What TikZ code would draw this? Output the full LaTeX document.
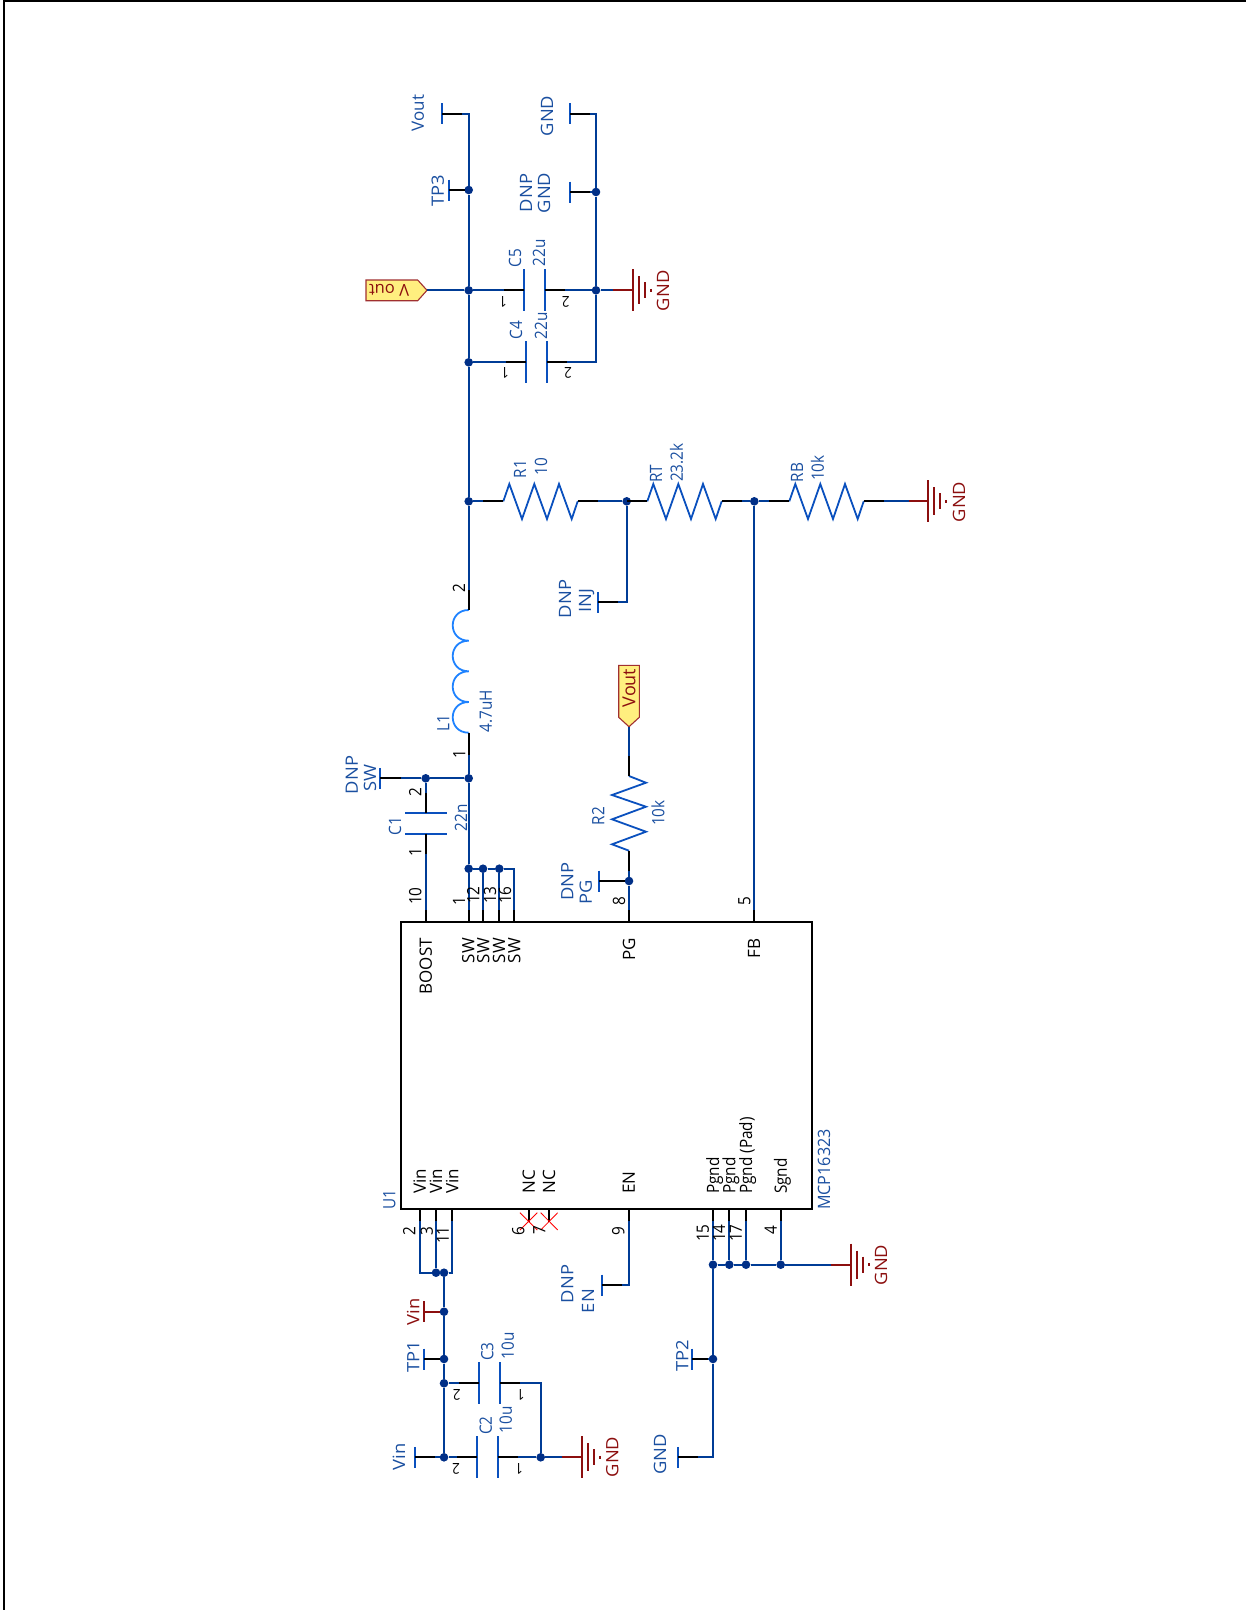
\documentclass[tikz,border=0pt]{standalone}
\usepackage{fontspec}
\setmainfont{Open Sans}
\newfontfamily\narrowf[FakeStretch=0.9]{Open Sans}
\newfontfamily\mediumf[FakeStretch=0.95]{Open Sans}
\newfontfamily\widef[FakeStretch=1.08]{Open Sans}
\definecolor{wireblue}{HTML}{003C96}
\definecolor{compblue}{HTML}{0A50BE}
\definecolor{textblue}{HTML}{1A4FA0}
\definecolor{dotblue}{HTML}{002F87}
\definecolor{darkred}{HTML}{8C0F0F}
\definecolor{indblue}{HTML}{1E82FF}
\definecolor{flagfill}{HTML}{FFEF7F}
\definecolor{flagline}{HTML}{A03030}
\newcommand{\tbarsym}[4][compblue]{\coordinate (#2) at (#3,#4);\draw[comp,draw=#1] (#3,#4-10.5) -- (#3,#4+10.5);}
\newcommand{\gndsym}[3]{\coordinate (#1) at (#2,#3);
 \draw[gndbar] (#2,#3-21) -- (#2,#3+21);
 \draw[gndbar] (#2+6,#3-14) -- (#2+6,#3+14);
 \draw[gndbar] (#2+12,#3-8) -- (#2+12,#3+8);
 \draw[gndbar] (#2+18,#3-1.5) -- (#2+18,#3+1.5);}
\newcommand{\resist}[3]{\coordinate (#1a) at (#2,#3);\coordinate (#1b) at (#2+74.4,#3);
 \draw[comp,line join=miter] (#1a) -- ++(6,-17.3) -- ++(12.7,35) -- ++(12.3,-35) -- ++(12.7,35) -- ++(12,-35) -- ++(12.7,35) -- (#1b);}
\newcommand{\capH}[5]{% name, x1, x2, y, half
 \coordinate (#1a) at (#2,#4);\coordinate (#1b) at (#3,#4);
 \draw[comp] (#2,#4-#5) -- (#2,#4+#5);\draw[comp] (#3,#4-#5) -- (#3,#4+#5);}
\tikzset{
 x=1pt,y=-1pt,
 wire/.style={draw=wireblue,line width=2pt},
 pinw/.style={draw=black,line width=2pt},
 redw/.style={draw=darkred,line width=2pt},
 comp/.style={draw=compblue,line width=1.8pt},
 gndbar/.style={draw=darkred,line width=2pt},
 dot/.style={circle,fill=dotblue,minimum size=8.6pt,inner sep=0pt,draw=none},
 txb/.style={inner sep=0pt,text depth=0pt},
 big/.style={txb,text height=12.1pt,font=\widef\fontsize{17}{17}\selectfont},
 mid/.style={txb,text height=12.1pt,font=\narrowf\fontsize{17}{17}\selectfont},
 lbl/.style={big,rotate=90,text=textblue},
 rlbl/.style={big,rotate=90,text=darkred},
 small/.style={mid,rotate=90,text=textblue},
 pinl/.style={mid,rotate=90,text=black},
 pinf/.style={txb,text height=10.7pt,rotate=180,text=black,font=\narrowf\fontsize{15}{15}\selectfont},
 icbase/.style={txb,text height=12.1pt,rotate=90,text=black,font=\fontsize{17}{17}\selectfont},
 icl/.style={icbase,anchor=west},
 ict/.style={icbase,anchor=east},
 flag/.style={draw=flagline,fill=flagfill,line width=1.1pt,line join=miter},
}
\begin{document}
\begin{tikzpicture}
\useasboundingbox (0,0) rectangle (1246,1610);
% sheet edge
\coordinate (sheetTL) at (4,1);
\coordinate (sheetTR) at (1246,1);
\coordinate (sheetBL) at (4,1610);
\draw[draw=black,line width=2pt] (sheetBL) -- (sheetTL) -- (sheetTR);

% IC
\node[draw=black,line width=2pt,minimum width=411pt,minimum height=287.3pt,inner sep=0pt] (U1) at (606.5,1065.35) {};

% junction dots
\node[dot] (jTP3) at (468.7,190) {};
\node[dot] (jVout) at (468.7,290.3) {};
\node[dot] (jC4) at (468.7,362.3) {};
\node[dot] (jR1) at (468.7,501.3) {};
\node[dot] (jSW) at (468.7,778.3) {};
\node[dot] (jC1) at (425.7,778.3) {};
\node[dot] (jS1) at (468.7,868.7) {};
\node[dot] (jS2) at (483,868.7) {};
\node[dot] (jS3) at (499.3,868.7) {};
\node[dot] (jGnd2) at (596,192) {};
\node[dot] (jC5r) at (596,290.3) {};
\node[dot] (jRT) at (626.7,501.3) {};
\node[dot] (jFB) at (754.3,501.3) {};
\node[dot] (jPG) at (629,881) {};
\node[dot] (jV1) at (436,1272.7) {};
\node[dot] (jV2) at (444,1272.7) {};
\node[dot] (jVin) at (444,1311.7) {};
\node[dot] (jTP1) at (444,1359) {};
\node[dot] (jC3) at (444,1383.3) {};
\node[dot] (jC2) at (444,1457.3) {};
\node[dot] (jC2r) at (540.7,1457.3) {};
\node[dot] (jP1) at (713,1264.7) {};
\node[dot] (jP2) at (729.3,1264.7) {};
\node[dot] (jP3) at (746,1264.7) {};
\node[dot] (jP4) at (780.7,1264.7) {};
\node[dot] (jTP2) at (713,1359) {};

% IC pin ends
\foreach \n/\x in {pBoost/425.7,pSa/468.7,pSb/483,pSc/499.3,pSd/514,pPG/629,pFB/754.3}
  \coordinate (\n) at (\x,921.7);
\foreach \n/\x in {pVa/419.7,pVb/436,pVc/452.3,pNa/528.7,pNb/549,pEN/628.7,pGa/713,pGb/729.3,pGc/746,pGd/780.7}
  \coordinate (\n) at (\x,1209);

% stub bars
\tbarsym{tVout}{442}{113.7}
\tbarsym{tTP3}{448.7}{190}
\tbarsym{tGnd}{570}{113.7}
\tbarsym{tGnd2}{570}{192}
\tbarsym{tInj}{598.3}{602.3}
\tbarsym{tSW}{380}{778.3}
\tbarsym{tPG}{599.3}{881}
\tbarsym{tEN}{602.3}{1285}
\tbarsym[darkred]{tVin}{424}{1311.7}
\tbarsym{tTP1}{424}{1359}
\tbarsym{tVinS}{415.3}{1457.3}
\tbarsym{tTP2}{692.3}{1359}
\tbarsym{tGndB}{678.3}{1457.3}

% ground symbols
\gndsym{gC5}{633.3}{290.3}
\gndsym{gRB}{928.3}{501.3}
\gndsym{gC2}{582}{1457.3}
\gndsym{gIC}{850.7}{1264.7}

% resistors
\resist{R1}{503.3}{501.3}
\resist{RT}{647.3}{501.3}
\resist{RB}{789.3}{501.3}
\coordinate (R2a) at (629,776);\coordinate (R2b) at (629,850.7);
\draw[comp,line join=miter] (R2a) -- (646,782.7) -- (612,795) -- (646,806.7) -- (612,819.3) -- (646,831.7) -- (612,844.3) -- (R2b);

% capacitors
\capH{C5}{524}{544.7}{290.3}{21}
\capH{C4}{526}{546.7}{362.3}{21}
\capH{C3}{479.3}{500}{1383.3}{21}
\capH{C2}{477.3}{497.7}{1457.3}{21}
\coordinate (C1a) at (425.7,813);\coordinate (C1b) at (425.7,833.7);
\draw[comp] (405,813) -- (446.7,813);
\draw[comp] (405,833.7) -- (446.7,833.7);

% inductor
\coordinate (L1a) at (468.7,732.7);\coordinate (L1b) at (468.7,610);
\draw[draw=indblue,line width=1.8pt] (L1a)
 .. controls (447.4,732.7) and (447.4,702) .. (468.7,702)
 .. controls (447.4,702) and (447.4,671.3) .. (468.7,671.3)
 .. controls (447.4,671.3) and (447.4,640.7) .. (468.7,640.7)
 .. controls (447.4,640.7) and (447.4,610) .. (L1b);

% flags
\draw[flag] (366,280) -- (417.7,280) -- (427,290.3) -- (417.7,300.7) -- (366,300.7) -- cycle;
\coordinate (fVout) at (427,290.3);
\draw[flag] (618.7,665.3) -- (639.3,665.3) -- (639.3,717.3) -- (629,726.7) -- (618.7,717.3) -- cycle;
\coordinate (fVoutR) at (629,726.7);

% wires
\draw[wire] (tVout) -| (jTP3);
\draw[wire] (jTP3) -- (jVout);
\draw[wire] (jVout) -- (jC4);
\draw[wire] (jC4) -- (jR1);
\draw[wire] (jR1) -- (L1b);
\draw[wire] (L1a) -- (jSW);
\draw[wire] (jSW) -- (jS1);
\draw[wire] (jS1) -- (pSa);
\draw[wire] (jS1) -- (jS2);
\draw[wire] (jS2) -- (jS3);
\draw[wire] (jS2) -- (pSb);
\draw[wire] (jS3) -- (pSc);
\draw[wire] (jS3) -| (pSd);
\draw[wire] (tTP3) -- (jTP3);
\draw[wire] (tGnd) -| (jGnd2);
\draw[wire] (tGnd2) -- (jGnd2);
\draw[wire] (jGnd2) -- (jC5r);
\draw[wire] (jC5r) |- (C4b);
\draw[wire] (jC4) -- (C4a);
\draw[wire] (fVout) -- (jVout);
\draw[wire] (jVout) -- (C5a);
\draw[wire] (C5b) -- (jC5r);
\draw[wire] (jC5r) -- (612.7,290.3);
\draw[redw] (612.7,290.3) -- (gC5);
\draw[wire] (jR1) -- (R1a);
\draw[wire] (R1b) -- (jRT);
\draw[wire] (jRT) -- (RTa);
\draw[wire] (RTb) -- (jFB);
\draw[wire] (jFB) -- (RBa);
\draw[wire] (RBb) -- (908.7,501.3);
\draw[redw] (908.7,501.3) -- (gRB);
\draw[wire] (jRT) |- (tInj);
\draw[wire] (jFB) -- (pFB);
\draw[wire] (tSW) -- (jC1);
\draw[wire] (jC1) -- (jSW);
\draw[wire] (jC1) -- (C1a);
\draw[wire] (C1b) -- (pBoost);
\draw[wire] (fVoutR) -- (R2a);
\draw[wire] (R2b) -- (jPG);
\draw[wire] (jPG) -- (pPG);
\draw[wire] (tPG) -- (jPG);
\draw[wire] (pVa) |- (jV1);
\draw[wire] (pVb) -- (jV1);
\draw[wire] (jV1) -- (jV2);
\draw[wire] (jV2) -| (pVc);
\draw[wire] (jV2) -- (jVin);
\draw[wire] (jVin) -- (jTP1);
\draw[wire] (jTP1) -- (jC3);
\draw[wire] (jC3) -- (jC2);
\draw[wire] (tTP1) -- (jTP1);
\draw[redw] (tVin) -- (jVin);
\draw[wire] (jC3) -- (C3a);
\draw[wire] (C3b) -| (jC2r);
\draw[wire] (tVinS) -- (jC2);
\draw[wire] (jC2) -- (C2a);
\draw[wire] (C2b) -- (jC2r);
\draw[wire] (jC2r) -- (561.7,1457.3);
\draw[redw] (561.7,1457.3) -- (gC2);
\draw[wire] (pEN) |- (tEN);
\draw[wire] (pGa) -- (jP1);
\draw[wire] (pGb) -- (jP2);
\draw[wire] (pGc) -- (jP3);
\draw[wire] (pGd) -- (jP4);
\draw[wire] (jP1) -- (jP2);
\draw[wire] (jP2) -- (jP3);
\draw[wire] (jP3) -- (jP4);
\draw[wire] (jP4) -- (830.7,1264.7);
\draw[redw] (830.7,1264.7) -- (gIC);
\draw[wire] (jP1) -- (jTP2);
\draw[wire] (tTP2) -- (jTP2);
\draw[wire] (jTP2) |- (tGndB);

% black pin stubs
\foreach \s/\d in {tVout/{20,0},tTP3/{16,0},tGnd/{20,0},tGnd2/{20,0},tInj/{20,0},tSW/{21,0},tPG/{26,0},tEN/{20,0},tTP1/{16,0},tVinS/{20,0},tTP2/{16,0},tGndB/{20,0},
 R1a/{-20,0},R1b/{20,0},RTa/{-20,0},RTb/{20,0},RBa/{-20,0},RBb/{20,0},C5a/{-20,0},C5b/{20,0},C4a/{-20,0},C4b/{20,0},C3a/{-20,0},C3b/{20,0},C2a/{-20,0},C2b/{20,0},
 L1a/{0,22},L1b/{0,-20},C1a/{0,-20},C1b/{0,20},R2a/{0,-20},R2b/{0,20},
 pBoost/{0,-12},pSa/{0,-12},pSb/{0,-12},pSc/{0,-12},pSd/{0,-12},pPG/{0,-12},pFB/{0,-12},
 pVa/{0,12},pVb/{0,12},pVc/{0,12},pNa/{0,13},pNb/{0,13},pEN/{0,12},pGa/{0,12},pGb/{0,12},pGc/{0,12},pGd/{0,12}}
  \draw[pinw] (\s) -- ++(\d);

% no-connect marks
\draw[draw=red,line width=.8pt] (520,1212.7) -- (537.3,1230) (520,1230) -- (537.3,1212.7);
\draw[draw=red,line width=.8pt] (540.7,1212.7) -- (557.7,1230) (540.7,1230) -- (557.7,1212.7);

% flag text
\node[txb,text height=12.1pt,rotate=180,text=darkred,font=\fontsize{16.5}{17}\selectfont] (tFlagA) at (389,290.3) {V out};
\node[txb,text height=12.8pt,rotate=90,text=darkred,font=\fontsize{18}{18}\selectfont] (tFlagB) at (629,688) {Vout};

% stub labels
\node[lbl,font=\fontsize{17}{17}\selectfont] (lVout) at (417.7,113) {Vout};
\node[lbl] (lTP3) at (437.7,191) {TP3};
\node[lbl] (lGnd) at (547,116) {GND};
\node[lbl] (lDNPa) at (526,193) {DNP};
\node[lbl] (lGnd2) at (544,193) {GND};
\node[lbl] (lDNPb) at (565,599) {DNP};
\node[lbl] (lInj) at (585,601) {INJ};
\node[lbl] (lDNPc) at (351.7,775) {DNP};
\node[lbl] (lSW) at (370,778) {SW};
\node[lbl] (lDNPd) at (567.3,881.7) {DNP};
\node[lbl] (lPG) at (585.7,892.3) {PG};
\node[lbl] (lDNPe) at (567.3,1284) {DNP};
\node[lbl] (lEN) at (588,1301) {EN};
\node[rlbl] (lVinR) at (413.3,1311.7) {Vin};
\node[lbl] (lTP1) at (413.3,1356.7) {TP1};
\node[lbl] (lVin) at (399,1456.7) {Vin};
\node[lbl] (lTP2) at (682.3,1355.7) {TP2};
\node[lbl] (lGndB) at (660,1454.3) {GND};
\node[rlbl] (lg1) at (663,290.7) {GND};
\node[rlbl] (lg2) at (959,502) {GND};
\node[rlbl] (lg3) at (612.3,1457) {GND};
\node[rlbl] (lg4) at (881,1265) {GND};

% component labels
\node[small] (vC5) at (515,258) {C5};
\node[small] (vC5v) at (539,253) {22u};
\node[small] (vC4) at (516,330) {C4};
\node[small] (vC4v) at (541,326) {22u};
\node[small] (vR1) at (520,469) {R1};
\node[small] (vR1v) at (541,466.7) {10};
\node[small] (vRT) at (656,474) {RT};
\node[small] (vRTv) at (676.7,462.7) {23.2k};
\node[small] (vRB) at (797,472.7) {RB};
\node[small] (vRBv) at (817.7,468) {10k};
\node[small] (vL1) at (443.3,723) {L1};
\node[small] (vL1v) at (485.7,711) {4.7uH};
\node[small] (vC1) at (395,826) {C1};
\node[small] (vC1v) at (461,818) {22n};
\node[small] (vR2) at (598.3,816) {R2};
\node[small] (vR2v) at (658.3,813) {10k};
\node[small] (vC3) at (487.3,1351.7) {C3};
\node[small] (vC3v) at (507.7,1346) {10u};
\node[small] (vC2) at (485.7,1425.7) {C2};
\node[small] (vC2v) at (505.7,1420) {10u};
\node[small,anchor=west] (vU1) at (389.3,1210) {U1};
\node[small,anchor=west,font=\mediumf\fontsize{17}{17}\selectfont] (vMCP) at (824,1210) {MCP16323};

% pin numbers
\foreach \n/\x/\y/\t in {a/415.3/791.7/2,b/415.3/851.7/1,c/415.3/896/10,d/459/901/1,e/473.3/895/12,f/490/895/13,g/505/895/16,h/619/900.7/8,i/744.3/901/5,
 j/459.3/754.3/1,k/459/588.6/2,l/409.3/1230.7/2,m/426.7/1230.7/3,n/442.7/1235/11,o/518.3/1230.7/6,p/539.3/1230/7,q/618.3/1230.7/9,
 r/702.7/1233/15,s/719/1233/14,t/735.7/1233/17,u/770.7/1230/4}
  \node[pinl] (n\n) at (\x,\y) {\t};
\foreach \n/\x/\y/\t in {a/503/301.7/1,b/565.7/301.7/2,c/505/373/1,d/568/373/2,e/456.7/1395/2,f/520.7/1395/1,g/456/1469/2,h/519/1469/1}
  \node[pinf] (f\n) at (\x,\y) {\t};

% IC pin names
\node[ict] (iBoost) at (425.7,938) {BOOST};
\node[ict] (iSa) at (468.3,938) {SW};
\node[ict] (iSb) at (483.3,938) {SW};
\node[ict] (iSc) at (499,938) {SW};
\node[ict] (iSd) at (514.3,938) {SW};
\node[ict] (iPG) at (629,938) {PG};
\node[ict] (iFB) at (754,938) {FB};
\node[icl] (iVa) at (419.7,1194) {Vin};
\node[icl] (iVb) at (436,1194) {Vin};
\node[icl] (iVc) at (452.3,1194) {Vin};
\node[icl] (iNa) at (528.7,1194) {NC};
\node[icl] (iNb) at (549,1194) {NC};
\node[icl] (iEN) at (628.7,1194) {EN};
\node[icl,font=\narrowf\fontsize{17}{17}\selectfont] (iGa) at (713,1194) {Pgnd};
\node[icl,font=\narrowf\fontsize{17}{17}\selectfont] (iGb) at (729.3,1194) {Pgnd};
\node[icl,font=\narrowf\fontsize{17}{17}\selectfont] (iGc) at (746,1194) {Pgnd\ (Pad)};
\node[icl,font=\narrowf\fontsize{17}{17}\selectfont] (iGd) at (780.7,1194) {Sgnd};
\end{tikzpicture}
\end{document}
